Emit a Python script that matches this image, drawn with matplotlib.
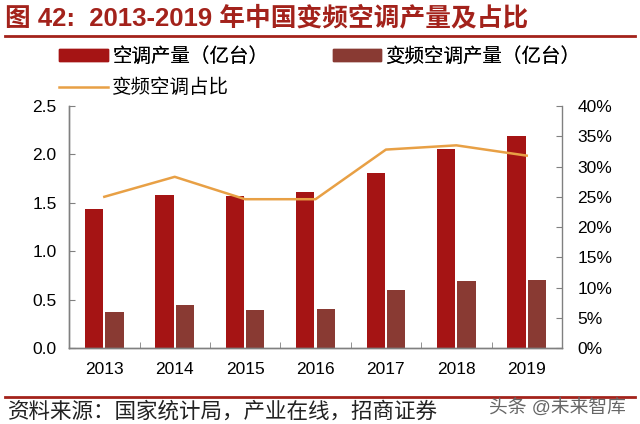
import matplotlib
matplotlib.use("Agg")
import matplotlib.pyplot as plt
from matplotlib.patches import Patch
from matplotlib.lines import Line2D
from matplotlib.ticker import FuncFormatter
import numpy as np

plt.rcParams['font.family'] = ['Liberation Sans', 'Noto Sans CJK SC', 'DejaVu Sans']

years = ['2013', '2014', '2015', '2016', '2017', '2018', '2019']
ac_output = [1.44, 1.58, 1.57, 1.61, 1.81, 2.06, 2.19]
inverter_output = [0.37, 0.45, 0.39, 0.40, 0.60, 0.69, 0.70]
inverter_share = [25.0, 28.3, 24.6, 24.6, 32.8, 33.5, 31.8]

red = '#A51414'
brown = '#893A33'
orange = '#E8A045'
axis_gray = '#808080'

fig = plt.figure(figsize=(6.4, 4.24), dpi=100)
ax = fig.add_axes([0.108, 0.179, 0.770, 0.571])
ax2 = ax.twinx()

x = np.arange(len(years))
w = 0.26
ax.bar(x - w / 2 - 0.015, ac_output, w, color=red, zorder=2)
ax.bar(x + w / 2 + 0.015, inverter_output, w, color=brown, zorder=2)
ax2.plot(x, inverter_share, color=orange, lw=1.8, zorder=3)

ax.set_xlim(-0.5, len(years) - 0.5)
ax.set_ylim(0, 2.5)
ax.set_yticks(np.arange(0, 2.51, 0.5))
ax.yaxis.set_major_formatter(FuncFormatter(lambda v, p: f'{v:.1f}'))
ax2.set_ylim(0, 40)
ax2.set_yticks(np.arange(0, 41, 5))
ax2.yaxis.set_major_formatter(FuncFormatter(lambda v, p: f'{v:.0f}%'))

ax.set_xticks(x)
ax.set_xticklabels(years)
ax.set_xticks(np.arange(-0.5, len(years) + 0.5, 1), minor=True)
ax.tick_params(axis='x', which='major', length=0, pad=10, labelsize=12.5)
ax.tick_params(axis='x', which='minor', direction='in', length=4, color=axis_gray)
ax.tick_params(axis='y', direction='in', length=4, color=axis_gray, labelsize=12.5, pad=9)
ax2.tick_params(axis='y', direction='in', length=4, color=axis_gray, labelsize=12.5, pad=11)

for a in (ax, ax2):
    a.spines['top'].set_visible(False)
    for s in ('left', 'right', 'bottom'):
        a.spines[s].set_color(axis_gray)
        a.spines[s].set_linewidth(1.0)
ax.spines['right'].set_visible(False)

handles = [Patch(color=red), Patch(color=brown), Line2D([0], [0], color=orange, lw=1.8)]
labels = ['空调产量（亿台）', '变频空调产量（亿台）', '变频空调占比']
leg1 = fig.legend(handles[:2], labels[:2], loc='center left', bbox_to_anchor=(0.08, 0.866),
                  ncol=2, frameon=False, fontsize=14, handlelength=2.5, handleheight=0.6,
                  handletextpad=0.25, columnspacing=3.3, borderaxespad=0)
fig.legend(handles[2:], labels[2:], loc='center left', bbox_to_anchor=(0.08, 0.792),
           frameon=False, fontsize=14, handlelength=2.5, handletextpad=0.25, borderaxespad=0)
fig.add_artist(leg1)

fig.text(0.008, 0.958, '图 42:  2013-2019 年中国变频空调产量及占比', color='#A3221B',
         fontsize=18.5, fontweight='bold', va='center', ha='left')
fig.add_artist(Line2D([0.008, 0.992], [0.914, 0.914], color='#A3221B', lw=2))
fig.add_artist(Line2D([0.008, 0.992], [0.064, 0.064], color='#A3221B', lw=2))
fig.text(0.012, 0.029, '资料来源：国家统计局，产业在线，招商证券', fontsize=15.5,
         va='center', ha='left', color='#222222')
fig.text(0.978, 0.038, '头条 @未来智库', fontsize=13.5, va='center', ha='right', color='#666666')

fig.savefig('out.png', dpi=100)
